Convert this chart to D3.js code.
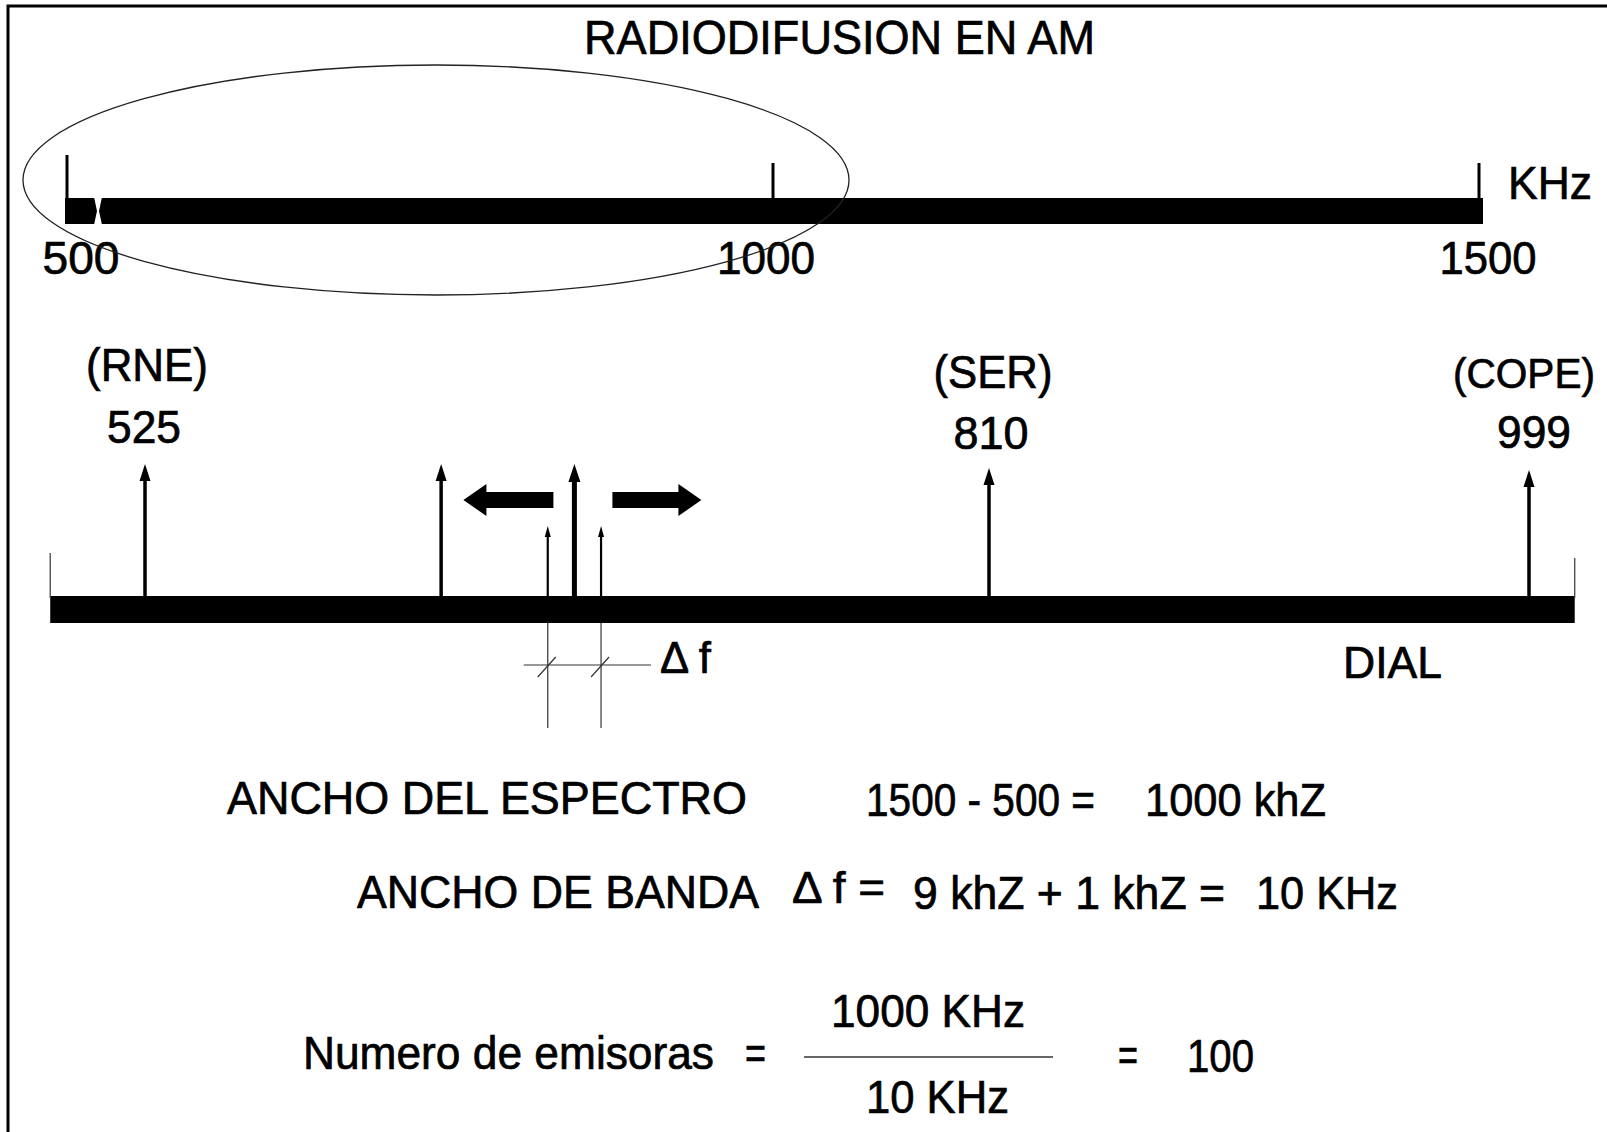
<!DOCTYPE html>
<html>
<head>
<meta charset="utf-8">
<script src="https://cdn.jsdelivr.net/npm/d3@7"></script>
<style>
  html, body { margin: 0; padding: 0; background: #fff; }
  svg { display: block; }
  text { font-family: "Liberation Sans", Arial, Helvetica, sans-serif; fill: #000; stroke: #000; stroke-width: 0.7; white-space: pre; }
</style>
</head>
<body>
<svg id="chart" width="1607" height="1132"></svg>
<script>
// ---------------- DATA ----------------
const titleText = "RADIODIFUSION EN AM";
const spectrumTicks = [500, 1000, 1500];           // kHz, top band axis
const spectrumUnit = "KHz";
const stationNames = ["(RNE)", "(SER)", "(COPE)"];
const stationFreqs = [525, 810, 999];              // kHz
const extraCarriers = [625];                       // unnamed carrier
const centerCarrier = 670;                         // carrier being tuned
const sidebandFreqs = [661, 679];                  // its side bands
const dialExtent = [493, 1015];                    // kHz covered by the dial bar
const dialLabel = "DIAL";
const deltaLabel = "\u0394 f";
const formulaLines = [
  "ANCHO DEL ESPECTRO", "1500 - 500 =", "1000 khZ",
  "ANCHO DE BANDA", "\u0394 f =", "9 khZ + 1 khZ =", "10 KHz",
  "Numero de emisoras", "=", "1000 KHz", "10 KHz", "=", "100"
];

// ---------------- LAYOUT ----------------
const svg = d3.select("#chart");
const W = 1607, H = 1132;
svg.append("rect").attr("width", W).attr("height", H).attr("fill", "#fff");

// frame (top and left edges visible)
svg.append("path").attr("d", `M8,${H} L8,6 L${W},6`)
  .attr("fill", "none").attr("stroke", "#000").attr("stroke-width", 3);

function label(str, x, y, size, width, anchor) {
  const t = svg.append("text").attr("x", x).attr("y", y)
    .attr("font-size", size).attr("text-anchor", anchor || "start").text(str);
  if (width) t.attr("textLength", width).attr("lengthAdjust", "spacingAndGlyphs");
  return t;
}

// title
label(titleText, 584, 54, 49, 511);

// ---------- top spectrum band ----------
const xTop = d3.scaleLinear().domain([500, 1500]).range([67, 1479]);
const barTopY = 198, barTopH = 26;
svg.append("rect")
  .attr("x", xTop(500) - 2).attr("y", barTopY)
  .attr("width", xTop(1500) - xTop(500) + 6).attr("height", barTopH)
  .attr("fill", "#000");
// small scan notch near the left end
svg.append("path")
  .attr("d", `M${xTop(500)+27},${barTopY-1} L${xTop(500)+35},${barTopY-1} L${xTop(500)+32},${barTopY+13} L${xTop(500)+35},${barTopY+barTopH+1} L${xTop(500)+27},${barTopY+barTopH+1} L${xTop(500)+30},${barTopY+13} Z`)
  .attr("fill", "#fff");

const tickTop = [155, 163, 163];
const tickLabelDx = [14, -7, 9];
const tickLabelW = [77, 98, 97];
svg.selectAll(".ttick").data(spectrumTicks).enter().append("line")
  .attr("x1", d => xTop(d)).attr("x2", d => xTop(d))
  .attr("y1", (d, i) => tickTop[i]).attr("y2", barTopY + 2)
  .attr("stroke", "#000").attr("stroke-width", 3);
spectrumTicks.forEach((d, i) => {
  label(String(d), xTop(d) + tickLabelDx[i], 274, 46, tickLabelW[i], "middle");
});
label(spectrumUnit, 1508, 199, 47, 84);

// ellipse around 500-1000
svg.append("ellipse")
  .attr("cx", 436).attr("cy", 180).attr("rx", 413).attr("ry", 115)
  .attr("fill", "none").attr("stroke", "#222").attr("stroke-width", 1.3);

// ---------- dial ----------
const xDial = d3.scaleLinear().domain([525, 810, 999]).range([145, 989, 1529]);
const dialY = 596, dialH = 27;
svg.append("rect")
  .attr("x", xDial(dialExtent[0])).attr("y", dialY)
  .attr("width", xDial(dialExtent[1]) - xDial(dialExtent[0])).attr("height", dialH)
  .attr("fill", "#000");
// thin end ticks of the dial
[[dialExtent[0], 553], [dialExtent[1], 558]].forEach(([f, top]) => {
  svg.append("line").attr("x1", xDial(f)).attr("x2", xDial(f))
    .attr("y1", top).attr("y2", dialY + 2)
    .attr("stroke", "#444").attr("stroke-width", 1.3);
});

function carrier(f, tipY, sw, hw, hh) {
  const x = xDial(f);
  svg.append("line").attr("x1", x).attr("x2", x)
    .attr("y1", tipY + hh - 2).attr("y2", dialY + 1)
    .attr("stroke", "#000").attr("stroke-width", sw);
  svg.append("path")
    .attr("d", `M${x},${tipY} L${x + hw / 2},${tipY + hh} L${x - hw / 2},${tipY + hh} Z`)
    .attr("fill", "#000");
}
const stationTip = [464, 468, 470];
stationFreqs.forEach((f, i) => carrier(f, stationTip[i], 3.5, 11, 17));
extraCarriers.forEach(f => carrier(f, 464, 3.5, 11, 17));
carrier(centerCarrier, 464, 5, 12, 18);
sidebandFreqs.forEach(f => carrier(f, 526, 2.2, 6, 11));

// station labels
const nameLayout = [[147, 381, 122, 46], [993, 388, 119, 46], [1524, 388, 142, 43]];
const freqLayout = [[144, 443, 74], [991, 449, 75], [1534, 448, 74]];
stationNames.forEach((n, i) => label(n, nameLayout[i][0], nameLayout[i][1], nameLayout[i][3], nameLayout[i][2], "middle"));
stationFreqs.forEach((f, i) => label(String(f), freqLayout[i][0], freqLayout[i][1], 46, freqLayout[i][2], "middle"));

// block arrows (tuning direction)
const arrowCy = 500;
const cx = xDial(centerCarrier);
svg.append("path")
  .attr("d", `M${cx-111},${arrowCy} L${cx-88},${arrowCy-16} L${cx-88},${arrowCy-8} L${cx-21},${arrowCy-8} L${cx-21},${arrowCy+8} L${cx-88},${arrowCy+8} L${cx-88},${arrowCy+16} Z`)
  .attr("fill", "#000");
svg.append("path")
  .attr("d", `M${cx+127},${arrowCy} L${cx+104},${arrowCy-16} L${cx+104},${arrowCy-8} L${cx+38},${arrowCy-8} L${cx+38},${arrowCy+8} L${cx+104},${arrowCy+8} L${cx+104},${arrowCy+16} Z`)
  .attr("fill", "#000");

// delta f dimension
const dimY = 665;
sidebandFreqs.forEach(f => {
  const x = xDial(f);
  svg.append("line").attr("x1", x).attr("x2", x).attr("y1", dialY + dialH).attr("y2", 728)
    .attr("stroke", "#333").attr("stroke-width", 1.2);
  svg.append("line").attr("x1", x - 10).attr("x2", x + 8).attr("y1", dimY + 12).attr("y2", dimY - 8)
    .attr("stroke", "#333").attr("stroke-width", 1.2);
});
svg.append("line").attr("x1", xDial(sidebandFreqs[0]) - 24).attr("x2", xDial(sidebandFreqs[1]) + 50)
  .attr("y1", dimY).attr("y2", dimY).attr("stroke", "#333").attr("stroke-width", 1.2);
label(deltaLabel, 660, 673, 44, 51);
label(dialLabel, 1343, 678, 45, 99);

// ---------- formulas ----------
const fs = 46;
label(formulaLines[0], 227, 814, fs, 520);
label(formulaLines[1], 866, 816, fs, 229);
label(formulaLines[2], 1145, 816, fs, 181);
label(formulaLines[3], 357, 908, fs, 402);
label(formulaLines[4], 792, 903, 44, 93);
label(formulaLines[5], 913, 909, fs, 312);
label(formulaLines[6], 1256, 909, fs, 142);
label(formulaLines[7], 303, 1069, fs, 411);
label(formulaLines[8], 745, 1069, fs, 21);
label(formulaLines[9], 831, 1027, fs, 194);
svg.append("line").attr("x1", 804).attr("x2", 1053).attr("y1", 1057).attr("y2", 1057)
  .attr("stroke", "#333").attr("stroke-width", 1.5);
label(formulaLines[10], 866, 1113, fs, 143);
label(formulaLines[11], 1118, 1071, fs, 20);
label(formulaLines[12], 1187, 1072, fs, 67);
</script>
</body>
</html>
